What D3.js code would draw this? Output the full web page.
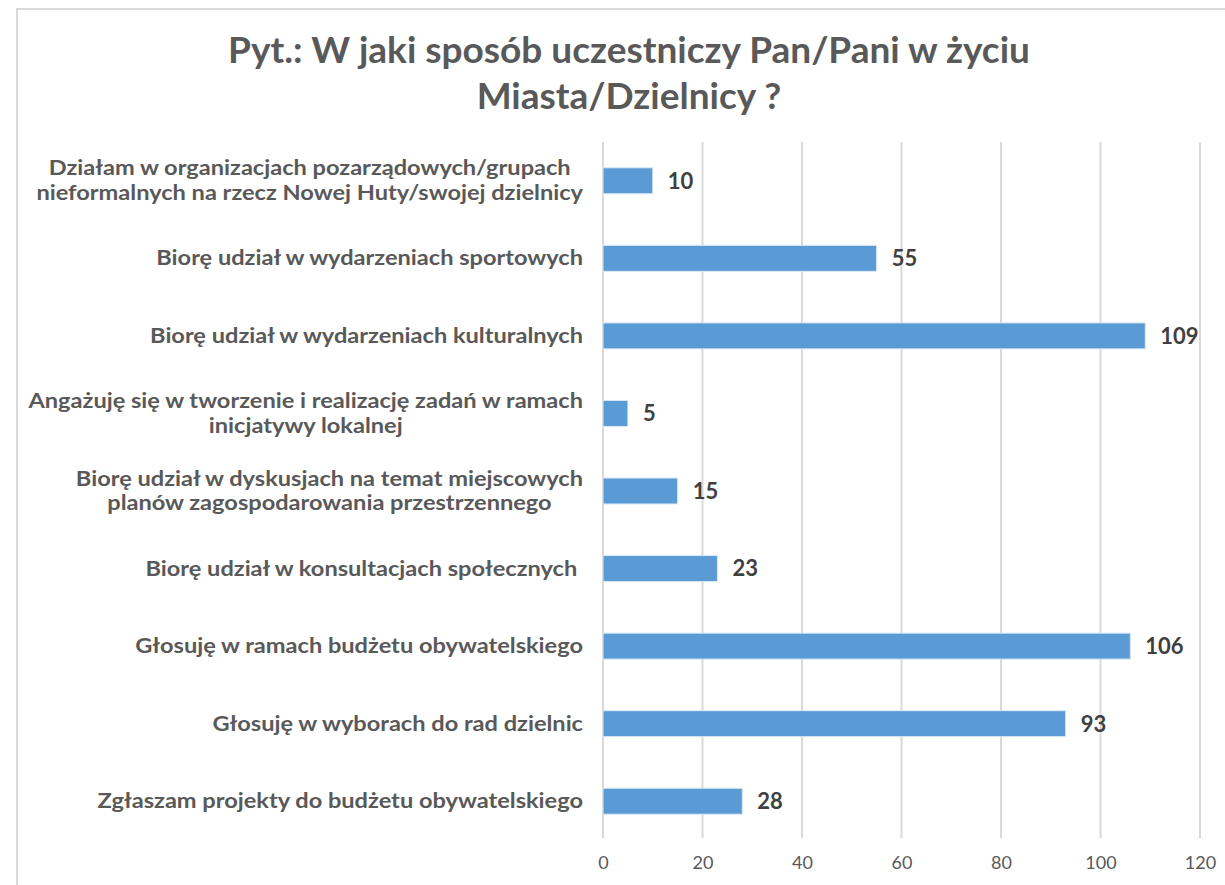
<!DOCTYPE html>
<html>
<head>
<meta charset="utf-8">
<script src="https://cdn.jsdelivr.net/npm/d3@7"></script>
<style>
  body { margin: 0; background: #fff; }
  text { font-family: Lato, "Open Sans", sans-serif; }
  .cat text { white-space: pre; }
</style>
</head>
<body>
<svg id="chart" width="1225" height="885"></svg>
<script>
// categories (top to bottom) and values
var categories = [
  ["Działam w organizacjach pozarządowych/grupach", "nieformalnych na rzecz Nowej Huty/swojej dzielnicy"],
  ["Biorę udział w wydarzeniach sportowych"],
  ["Biorę udział w wydarzeniach kulturalnych"],
  ["Angażuję się w tworzenie i realizację zadań w ramach", "inicjatywy lokalnej"],
  ["Biorę udział w dyskusjach na temat miejscowych", "planów zagospodarowania przestrzennego"],
  ["Biorę udział w konsultacjach społecznych "],
  ["Głosuję w ramach budżetu obywatelskiego"],
  ["Głosuję w wyborach do rad dzielnic"],
  ["Zgłaszam projekty do budżetu obywatelskiego"]
];
var values = [10, 55, 109, 5, 15, 23, 106, 93, 28];
var ticks = [0, 20, 40, 60, 80, 100, 120];
var title = ["Pyt.: W jaki sposób uczestniczy Pan/Pani w życiu", "Miasta/Dzielnicy ?"];

var svg = d3.select("#chart");

// outer frame
svg.append("rect")
  .attr("x", 17).attr("y", 9)
  .attr("width", 1225).attr("height", 900)
  .attr("fill", "none")
  .attr("stroke", "#d9d9d9")
  .attr("stroke-width", 2);

// title
svg.append("text")
  .attr("x", 629).attr("y", 63)
  .attr("text-anchor", "middle")
  .style("font-size", "37px").style("font-weight", "bold")
  .attr("fill", "#595959")
  .selectAll("tspan")
  .data(title)
  .enter().append("tspan")
    .attr("x", 629)
    .attr("dy", function(d, i) { return i ? 46 : 0; })
    .text(function(d) { return d; });

var plotLeft = 603, plotRight = 1200, plotTop = 142, plotBottom = 840;

var x = d3.scaleLinear()
  .domain([0, 120])
  .range([plotLeft, plotRight]);
var y = d3.scaleBand()
  .domain(d3.range(categories.length))
  .range([plotTop, plotBottom])
  .paddingInner(0.665)
  .paddingOuter(0.3325);

// gridlines
svg.append("g")
  .selectAll("line")
  .data(ticks)
  .enter().append("line")
    .attr("x1", function(d) { return x(d); })
    .attr("x2", function(d) { return x(d); })
    .attr("y1", plotTop).attr("y2", 838)
    .attr("stroke", "#d9d9d9")
    .attr("stroke-width", 2);

// x axis labels
var xAxis = svg.append("g")
  .attr("transform", "translate(0,838)")
  .call(d3.axisBottom(x).tickValues(ticks).tickSize(0).tickPadding(18));
xAxis.select(".domain").remove();
xAxis.selectAll("text")
  .style("font-size", "18px")
  .style("font-family", "Lato, sans-serif")
  .attr("fill", "#595959");

// bars
svg.selectAll(".bar")
  .data(values)
  .enter().append("rect")
    .attr("class", "bar")
    .attr("x", x(0))
    .attr("y", function(d, i) { return y(i); })
    .attr("width", function(d) { return x(d) - x(0); })
    .attr("height", y.bandwidth())
    .attr("fill", "#5b9bd5")
    .attr("stroke", "#dbe8f5")
    .attr("stroke-width", 1);

// value labels
svg.selectAll(".val")
  .data(values)
  .enter().append("text")
    .attr("class", "val")
    .attr("x", function(d) { return x(d) + 15; })
    .attr("y", function(d, i) { return y(i) + y.bandwidth() / 2; })
    .attr("dy", "0.36em")
    .style("font-size", "22px").style("font-weight", "bold")
    .attr("fill", "#404040")
    .text(function(d) { return d; });

// category labels (slightly stretched horizontally like the source)
var cat = svg.selectAll(".cat")
  .data(categories)
  .enter().append("g")
    .attr("class", "cat")
    .attr("transform", function(d, i) {
      return "translate(583," + (y(i) + y.bandwidth() / 2 - (d.length - 1) * 12.5) + ") scale(1.18,1)";
    })
  .append("text")
    .attr("text-anchor", "middle")
    .style("font-size", "20px").style("font-weight", "bold")
    .attr("fill", "#595959");
cat.selectAll("tspan")
  .data(function(d) { return d; })
  .enter().append("tspan")
    .attr("dy", function(d, i) { return i ? 25 : "0.35em"; })
    .text(function(d) { return d; });
// right-align block, center lines within it
cat.each(function() {
  var t = d3.select(this);
  var w = 0;
  t.selectAll("tspan").each(function() { w = Math.max(w, this.getComputedTextLength()); });
  t.selectAll("tspan").attr("x", -w / 2);
});
</script>
</body>
</html>
